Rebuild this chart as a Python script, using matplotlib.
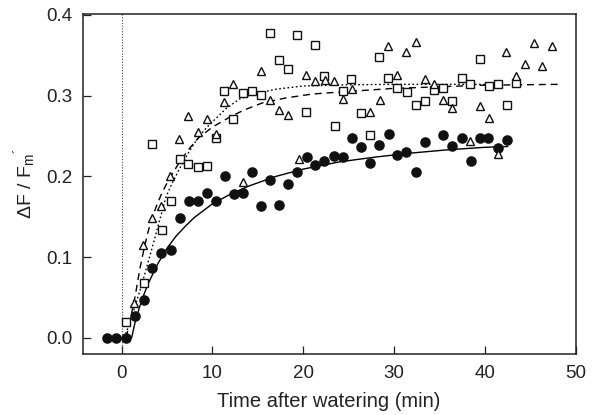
import matplotlib
matplotlib.use("Agg")
import matplotlib.pyplot as plt

plt.rcParams['font.family'] = ['Liberation Sans', 'DejaVu Sans']
plt.rcParams['mathtext.default'] = 'regular'

# ---- data: filled circles ----
circle_x = [-1.65, -0.63, 0.44, 1.46, 2.42, 3.37, 4.36, 5.42, 6.41, 7.40, 8.36, 9.38,
            10.41, 11.36, 12.43, 13.34, 14.37, 15.40, 16.39, 17.31, 18.37, 19.32, 20.39,
            21.34, 22.33, 23.36, 24.35, 25.37, 26.36, 27.39, 28.34, 29.41, 30.36, 31.35,
            32.41, 33.40, 35.38, 36.37, 37.44, 38.46, 39.42, 40.37, 41.43, 42.50]
circle_y = [0.0, 0.0, 0.0, 0.027, 0.047, 0.086, 0.105, 0.109, 0.148, 0.169, 0.170, 0.179,
            0.169, 0.200, 0.178, 0.180, 0.205, 0.163, 0.195, 0.164, 0.190, 0.206, 0.224,
            0.214, 0.219, 0.225, 0.224, 0.247, 0.237, 0.216, 0.239, 0.252, 0.226, 0.230,
            0.205, 0.242, 0.251, 0.238, 0.247, 0.219, 0.247, 0.248, 0.235, 0.245]

# ---- data: open squares ----
square_x = [0.44, 2.42, 3.30, 4.40, 5.39, 6.41, 7.33, 8.36, 9.35, 10.41, 11.33, 12.32,
            13.34, 14.37, 15.32, 16.35, 17.30, 18.37, 19.36, 20.35, 21.30, 22.29, 23.47,
            24.38, 25.30, 26.36, 27.39, 28.34, 29.33, 30.36, 31.39, 32.38, 33.40, 34.39,
            35.38, 36.41, 37.44, 38.39, 39.42, 40.41, 41.43, 42.46, 43.41]
square_y = [0.020, 0.068, 0.240, 0.134, 0.169, 0.221, 0.215, 0.212, 0.213, 0.248, 0.306, 0.271,
            0.303, 0.306, 0.301, 0.378, 0.344, 0.333, 0.375, 0.280, 0.363, 0.324, 0.262,
            0.306, 0.321, 0.279, 0.251, 0.348, 0.322, 0.310, 0.304, 0.288, 0.293, 0.307,
            0.309, 0.293, 0.322, 0.314, 0.345, 0.312, 0.315, 0.288, 0.316]

# ---- data: open triangles ----
tri_x = [1.32, 2.34, 3.37, 4.36, 5.31, 6.34, 7.33, 8.36, 9.35, 10.45, 11.29, 12.32,
         13.42, 15.32, 16.31, 17.38, 18.33, 19.50, 20.31, 21.34, 22.37, 23.36, 24.38,
         25.34, 27.39, 28.42, 29.33, 30.32, 31.35, 32.38, 33.40, 34.43, 35.38, 36.41,
         38.39, 39.42, 40.44, 41.47, 42.35, 43.41, 44.40, 45.39, 46.35, 47.41]
tri_y = [0.043, 0.115, 0.148, 0.163, 0.200, 0.246, 0.275, 0.255, 0.271, 0.252, 0.292, 0.315,
         0.193, 0.330, 0.294, 0.282, 0.276, 0.221, 0.326, 0.318, 0.319, 0.318, 0.296,
         0.308, 0.280, 0.295, 0.361, 0.326, 0.354, 0.367, 0.321, 0.315, 0.295, 0.285,
         0.244, 0.287, 0.272, 0.228, 0.354, 0.324, 0.339, 0.365, 0.337, 0.361]

# ---- fitted curves ----
solid_x = [-1.65, 1.1, 1.5, 2.0, 2.5, 3.0, 4.0, 5.0, 6.0, 7.0, 8.0, 10.0, 12.0, 14.0,
           17.0, 20.0, 24.0, 28.0, 32.0, 36.0, 40.0, 42.5]
solid_y = [0.0, 0.0, 0.020, 0.039, 0.055, 0.069, 0.092, 0.111, 0.126, 0.138, 0.149, 0.166,
           0.178, 0.188, 0.200, 0.209, 0.218, 0.224, 0.229, 0.233, 0.236, 0.237]

dashed_x = [0.5, 1.0, 1.5, 2.0, 2.5, 3.0, 3.5, 4.0, 4.5, 5.3, 6.4, 7.5, 8.5, 10.0, 12.0,
            13.45, 15.5, 18.0, 21.0, 24.7, 30.0, 35.0, 40.0, 48.2]
dashed_y = [0.0, 0.025, 0.052, 0.085, 0.112, 0.135, 0.153, 0.168, 0.181, 0.198, 0.218,
            0.235, 0.248, 0.261, 0.274, 0.282, 0.291, 0.297, 0.302, 0.305, 0.309, 0.311,
            0.313, 0.314]

dotted_x = [0.3, 1.0, 1.5, 2.0, 2.5, 3.0, 3.5, 4.0, 4.9, 5.5, 6.4, 7.5, 8.5, 9.4, 10.5,
            11.5, 13.0, 15.0, 17.0, 20.0, 25.0, 30.0, 35.0, 40.5]
dotted_y = [0.0, 0.022, 0.040, 0.058, 0.077, 0.097, 0.117, 0.138, 0.175, 0.190, 0.210,
            0.232, 0.249, 0.261, 0.273, 0.284, 0.296, 0.303, 0.308, 0.312, 0.3135, 0.314,
            0.314, 0.314]

x_ticks = [0, 10, 20, 30, 40, 50]
y_ticks = [0.0, 0.1, 0.2, 0.3, 0.4]

fig = plt.figure(figsize=(5.94, 4.15), dpi=100)
ax = fig.add_axes([0.139, 0.147, 0.830, 0.819])

ax.axvline(0, color='#444444', lw=0.8, ls=(0, (1, 1.5)), zorder=1)

ax.plot(solid_x, solid_y, '-', color='black', lw=1.0, zorder=2)
ax.plot(dashed_x, dashed_y, color='black', lw=1.0, ls=(0, (5, 3.5)), zorder=2)
ax.plot(dotted_x, dotted_y, color='black', lw=1.0, ls=(0, (1.2, 1.8)), zorder=2)

ax.plot(circle_x, circle_y, 'o', ms=6.6, mfc='#111111', mec='#111111', ls='none', zorder=3)
ax.plot(square_x, square_y, 's', ms=5.2, mfc='white', mec='#111111', mew=1.0, ls='none', zorder=3)
ax.plot(tri_x, tri_y, '^', ms=6.4, mfc='white', mec='#111111', mew=1.0, ls='none', zorder=3)

ax.set_xlim(-4.3, 50)
ax.set_ylim(-0.02, 0.401)
ax.set_xticks(x_ticks)
ax.set_yticks(y_ticks)
ax.set_xticklabels([str(v) for v in x_ticks])
ax.set_yticklabels([f"{v:.1f}" for v in y_ticks])
ax.tick_params(direction='in', length=6, width=0.9, labelsize=13.5, colors='#222222', pad=8)
ax.tick_params(axis='y', pad=7)
for s in ax.spines.values():
    s.set_linewidth(1.1)
    s.set_color('#222222')

ax.set_xlabel('Time after watering (min)', fontsize=14.5, color='#222222', labelpad=7)
ax.set_ylabel('ΔF / F$_m$$^{´}$', fontsize=14, color='#222222', labelpad=6)

fig.savefig('out.png', dpi=100)
